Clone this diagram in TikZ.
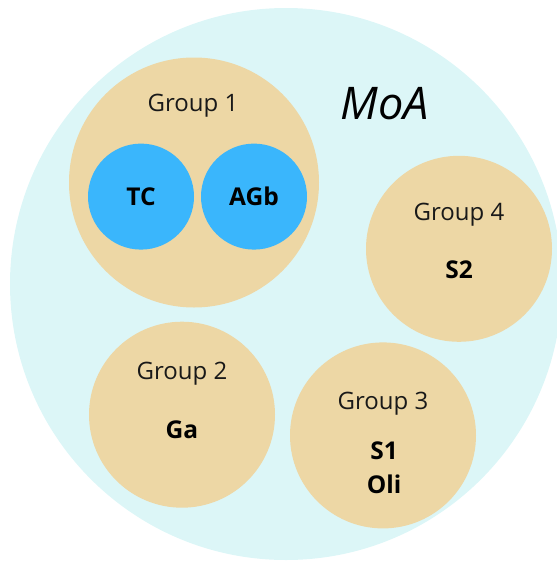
\documentclass[tikz,border=0pt]{standalone}
\usepackage{fontspec}
\setmainfont{Open Sans}
\definecolor{moabg}{RGB}{220,246,247}
\definecolor{grp}{RGB}{237,215,165}
\definecolor{inner}{RGB}{58,182,252}
\begin{document}
\begin{tikzpicture}[x=1pt,y=-1pt,
  groupc/.style={circle,fill=grp,draw=none,inner sep=0pt,minimum size=#1},
  innerc/.style={circle,fill=inner,draw=none,inner sep=0pt,minimum size=106pt},
  glabel/.style={anchor=base,font=\fontsize{24}{28}\selectfont,text=black!90,inner sep=0pt},
  blabel/.style={anchor=base,font=\fontsize{24.5}{28}\selectfont\bfseries,text=black,inner sep=0pt}]
\useasboundingbox (0,0) rectangle (557,563);
\clip (0,0) rectangle (557,563);
\node[circle,fill=moabg,inner sep=0pt,minimum size=552pt] (moa) at (286,284) {};
\node[anchor=base,font=\fontsize{45}{50}\selectfont\itshape,inner sep=0pt] (moalabel) at (385,119.5) {MoA};
% Group 1
\node[groupc=250pt] (g1) at (194,182.5) {};
\node[glabel] (g1l) at (193,111.3) {Group 1};
\node[innerc] (tc) at (141,196.6) {};
\node[innerc] (agb) at (254,196.6) {};
\node[blabel] (tcl) at (141,205.7) {TC};
\node[blabel] (agbl) at (254,205.7) {AGb};
% Group 4
\node[groupc=186pt] (g4) at (459,248.8) {};
\node[glabel] (g4l) at (459,220.8) {Group 4};
\node[blabel] (s2) at (459,278.3) {S2};
% Group 2
\node[groupc=186pt] (g2) at (182,414.7) {};
\node[glabel] (g2l) at (182,379.3) {Group 2};
\node[blabel] (ga) at (182,438.5) {Ga};
% Group 3
\node[groupc=186pt] (g3) at (383,435.4) {};
\node[glabel] (g3l) at (383,409) {Group 3};
\node[blabel] (s1) at (384,459.8) {S1};
\node[blabel] (oli) at (384,493.3) {Oli};
\end{tikzpicture}
\end{document}
